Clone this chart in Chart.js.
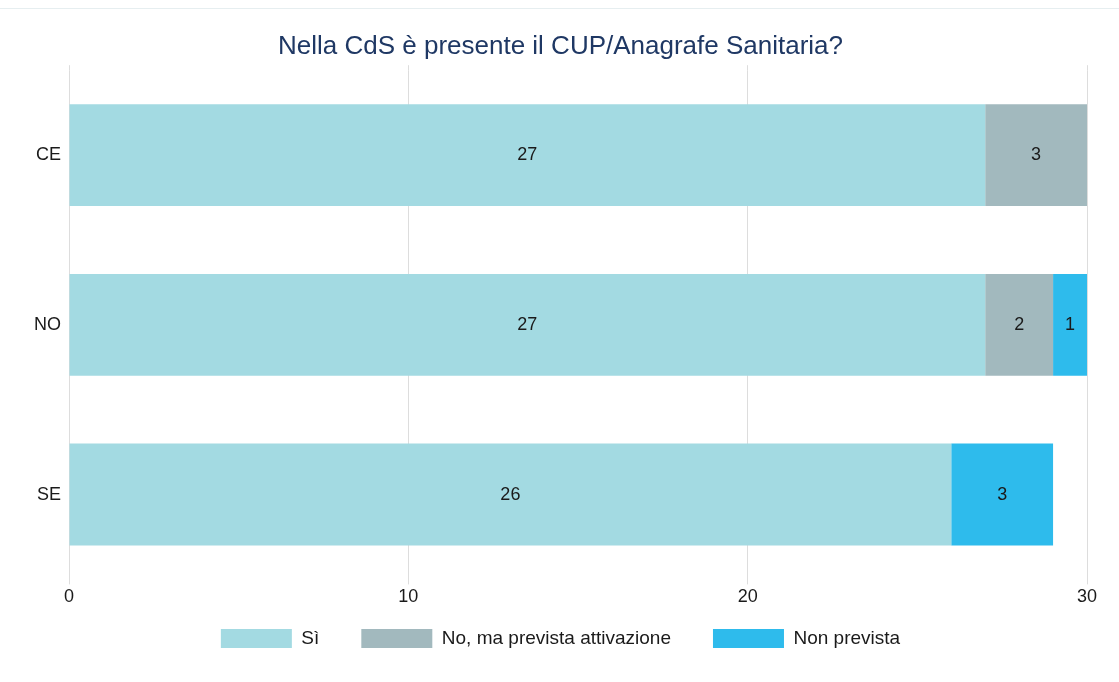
<!DOCTYPE html>
<html>
<head>
<meta charset="utf-8">
<script src="https://cdn.jsdelivr.net/npm/chart.js@4"></script>
<style>
html,body{margin:0;padding:0;background:#fff;}
#wrap{position:absolute;left:0;top:0;width:1119px;height:682px;}
#topline{position:absolute;left:0;top:8px;width:1119px;height:1px;background:#e6eef0;}
#c{position:absolute;left:0;top:9px;}
</style>
</head>
<body>
<div id="wrap">
<div id="topline"></div>
<canvas id="c" width="1119" height="673"></canvas>
</div>
<script>
const titleText = "Nella CdS è presente il CUP/Anagrafe Sanitaria?";
const categories = ["CE", "NO", "SE"];
const seriesNames = ["Sì", "No, ma prevista attivazione", "Non prevista"];
const valuesSi = [27, 27, 26];
const valuesNoPrevista = [3, 2, 0];
const valuesNonPrevista = [0, 1, 3];
const xTicks = [0, 10, 20, 30];
const colors = ["#a3dae2", "#a2b9be", "#2ebbec"];

const FONT = "'Liberation Sans', Arial, sans-serif";
const GRID = "#dddddd";

const labelPlugin = {
  id: 'barLabels',
  afterDatasetsDraw(chart) {
    const ctx = chart.ctx;
    ctx.save();
    ctx.font = "18px " + FONT;
    ctx.fillStyle = "#1a1a1a";
    ctx.textAlign = "center";
    ctx.textBaseline = "middle";
    chart.data.datasets.forEach((ds, i) => {
      const meta = chart.getDatasetMeta(i);
      meta.data.forEach((el, j) => {
        const v = ds.data[j];
        if (!v) return;
        const x = (el.x + el.base) / 2;
        ctx.fillText(String(v), x, el.y);
      });
    });
    ctx.restore();
  }
};

const legendShift = {
  id: 'legendShift',
  afterLayout(chart) {
    const l = chart.legend;
    if (l) { l.top -= 23; l.bottom -= 23; }
  }
};

new Chart(document.getElementById('c'), {
  type: 'bar',
  data: {
    labels: categories,
    datasets: [
      { label: seriesNames[0], data: valuesSi, backgroundColor: colors[0] },
      { label: seriesNames[1], data: valuesNoPrevista, backgroundColor: colors[1] },
      { label: seriesNames[2], data: valuesNonPrevista, backgroundColor: colors[2] }
    ]
  },
  options: {
    indexAxis: 'y',
    responsive: false,
    animation: false,
    barPercentage: 0.6,
    categoryPercentage: 1.0,
    layout: { padding: { left: 34, right: 32, top: 10, bottom: 1 } },
    scales: {
      x: {
        stacked: true,
        position: 'bottom',
        min: 0, max: 30,
        afterBuildTicks(axis) { axis.ticks = xTicks.map(v => ({ value: v })); },
        grid: { color: GRID, lineWidth: 1, drawTicks: true, tickLength: 5 },
        border: { display: false },
        ticks: { color: "#1a1a1a", font: { size: 18, family: FONT }, padding: 2 }
      },
      x2: {
        position: 'top',
        min: 0, max: 30,
        afterBuildTicks(axis) { axis.ticks = xTicks.map(v => ({ value: v })); },
        grid: { color: GRID, lineWidth: 1, drawOnChartArea: false, drawTicks: true, tickLength: 5 },
        border: { display: false },
        ticks: { display: false }
      },
      y: {
        stacked: true,
        grid: { display: false },
        border: { display: false },
        ticks: { color: "#1a1a1a", font: { size: 18, family: FONT }, padding: 0 }
      }
    },
    plugins: {
      title: {
        display: true, text: titleText, color: "#1f3864",
        font: { size: 26, family: FONT, weight: 'normal' },
        padding: { top: 12, bottom: 3 }
      },
      legend: {
        position: 'bottom',
        labels: {
          boxWidth: 71, boxHeight: 19, color: "#1a1a1a",
          font: { size: 19, family: FONT }, padding: 42
        }
      },
      tooltip: { enabled: false }
    }
  },
  plugins: [labelPlugin, legendShift]
});
</script>
</body>
</html>
